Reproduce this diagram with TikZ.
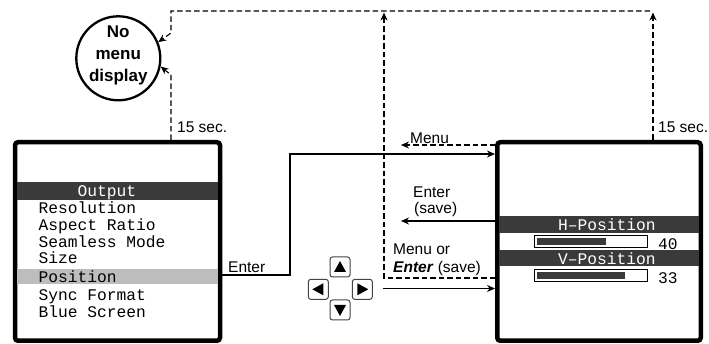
\documentclass[tikz,border=0pt]{standalone}
\usepackage{fontspec}
\setmainfont{Liberation Sans}
\newfontfamily\osdfont{Liberation Mono}
\usetikzlibrary{arrows.meta}
\definecolor{osddark}{HTML}{3A3A3A}
\definecolor{osdgray}{HTML}{BDBDBD}
\definecolor{keyline}{HTML}{444444}
\begin{document}
\begin{tikzpicture}[x=1pt,y=-1pt,
  scr/.style={draw, line width=4.5pt, rounded corners=3pt, inner sep=0pt, minimum height=198.5pt},
  osd/.style={font=\fontsize{16.25}{18}\osdfont, anchor=base west, inner sep=0pt},
  osdw/.style={osd, text=white},
  lbl/.style={font=\fontsize{15.5}{18}\selectfont, anchor=base west, inner sep=0pt},
  dsh/.style={dash pattern=on 5.5pt off 3pt, line width=1.1pt},
  sol/.style={line width=1.1pt},
  tip/.style={-{Stealth[length=8pt,width=7pt]}},
  keybox/.style={draw=keyline, line width=1pt, rounded corners=2.5pt, minimum size=20pt, inner sep=0pt},
  slider/.style={draw, line width=1pt}
]
\useasboundingbox (0,0) rectangle (709,344);

% screens
\node[scr, minimum width=205pt] (L) at (117.5,241.5) {};
\node[scr, minimum width=203.5pt] (R) at (599,241.5) {};

% left OSD contents
\fill[osddark] (17,182) rectangle (218,200);
\fill[osdgray] (17,269) rectangle (218,284);
\node[osdw] (tOut) at (77.3,197) {Output};
\node[osd] (t1) at (38.3,214) {Resolution};
\node[osd] (t2) at (38.3,230.7) {Aspect Ratio};
\node[osd] (t3) at (38.3,247.3) {Seamless Mode};
\node[osd] (t4) at (38.3,264) {Size};
\node[osd] (t5) at (38.3,282.7) {Position};
\node[osd] (t6) at (38.3,300.7) {Sync Format};
\node[osd] (t7) at (38.3,317.3) {Blue Screen};

% right OSD contents
\fill[osddark] (499,216) rectangle (698.5,232.7);
\fill[osddark] (499,250) rectangle (698.5,266);
\node[osdw] (tH) at (558,230.7) {H–Position};
\node[osdw] (tV) at (558,265) {V–Position};
\draw[slider] (534,235.7) rectangle (647.7,247.3);
\fill[osddark] (536.7,237.7) rectangle (606,245.3);
\draw[slider] (534,269.7) rectangle (647.7,281.3);
\fill[osddark] (536.7,271.7) rectangle (625,279.3);
\node[osd] (v40) at (658,249.3) {40};
\node[osd] (v33) at (658,283.3) {33};

% no-menu circle
\node[circle, draw, line width=2.3pt, minimum size=84pt, inner sep=0pt] (C) at (118.3,58.3) {};
\node[align=center, inner sep=0pt, font=\fontsize{17}{22}\selectfont\bfseries] (Ct) at (118.3,55) {No\\menu\\display};

% keypad
\node[keybox] (kU) at (340,267) {};
\node[keybox] (kL) at (318.3,289.3) {};
\node[keybox] (kR) at (362.3,289.3) {};
\node[keybox] (kD) at (340,310) {};
\fill ([shift={(0,-6)}]kU.center) -- ([shift={(6,5)}]kU.center) -- ([shift={(-6,5)}]kU.center) -- cycle;
\fill ([shift={(0,6)}]kD.center) -- ([shift={(6,-5)}]kD.center) -- ([shift={(-6,-5)}]kD.center) -- cycle;
\fill ([shift={(-6,0)}]kL.center) -- ([shift={(5,-6)}]kL.center) -- ([shift={(5,6)}]kL.center) -- cycle;
\fill ([shift={(6,0)}]kR.center) -- ([shift={(-5,-6)}]kR.center) -- ([shift={(-5,6)}]kR.center) -- cycle;

% helper coordinates
\coordinate (xa) at (171,0);
\coordinate (xb) at (653,0);
\coordinate (ya) at (0,275);
\coordinate (yb) at (0,154);
\coordinate (yc) at (0,145);
\coordinate (yd) at (0,221);
\coordinate (ye) at (0,278);
\coordinate (yf) at (0,288.5);
\coordinate (p1) at (290,275);
\coordinate (p2) at (290,154);
\coordinate (p3) at (401,145);
\coordinate (p4) at (401,221);
\coordinate (p5) at (384,278);
\coordinate (p6) at (384,12.5);
\coordinate (p7) at (653,12.5);
\coordinate (p8) at (650,11);
\coordinate (p9) at (171,11);
\coordinate (p10) at (171,33);
\coordinate (p11) at (171,75);

% connectors
\draw[sol,tip] (L.east |- ya) -- (p1) -- (p2) -- (R.west |- yb);
\draw[dsh,tip] (R.west |- yc) -- (p3);
\draw[sol,tip] (R.west |- yd) -- (p4);
\draw[dsh,tip] (R.west |- ye) -- (p5) -- (p6);
\draw[sol,tip] ([xshift=10pt]kR.east |- yf) -- (R.west |- yf);
\draw[dsh,tip] (xb |- R.north) -- (p7);
\draw[dsh,tip] (p8) -- (p9) -- (p10) -- (C.22);
\draw[dsh,tip] (xa |- L.north) -- (p11) -- (C.-11);

% labels
\node[lbl] (s1) at (177,132.7) {15 sec.};
\node[lbl] (s2) at (658,132.7) {15 sec.};
\node[lbl] (lM) at (410,143.3) {Menu};
\node[lbl] (lE) at (228,272.7) {Enter};
\node[lbl] (lE2) at (413,197.3) {Enter};
\node[lbl] (lS2) at (414,213.3) {(save)};
\node[lbl] (lMo) at (393,254.3) {Menu or};
\node[lbl] (lEs) at (393,272.7) {\textbf{\textit{Enter}} (save)};
\end{tikzpicture}
\end{document}
